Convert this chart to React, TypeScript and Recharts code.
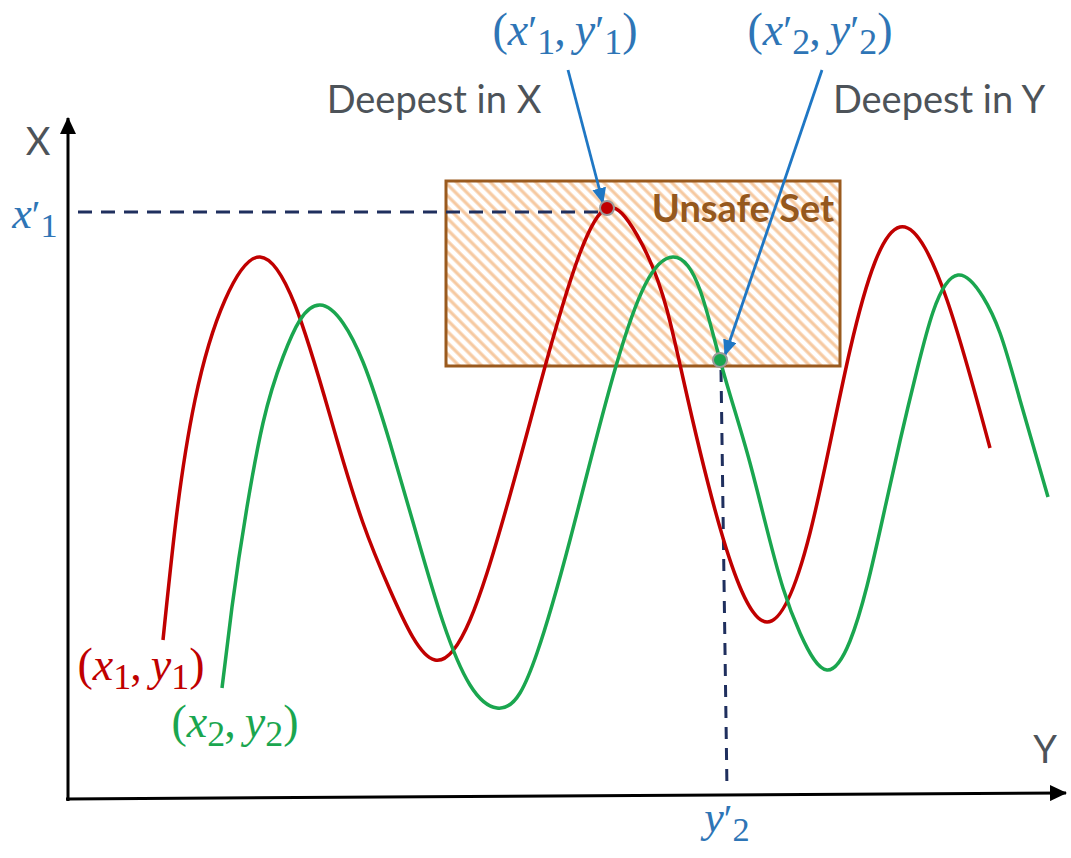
import React from 'react';
import { LineChart, Line, XAxis, YAxis, ReferenceArea, ReferenceLine, ReferenceDot } from 'recharts';

// Trajectory 1 (red): horizontal "Y" coordinate u, vertical "X" coordinate v
const traj1 = [
  { u: 95, v: 157 }, { u: 108, v: 277 }, { u: 127, v: 397 }, { u: 157, v: 497 },
  { u: 192, v: 540 }, { u: 227, v: 492 }, { u: 269, v: 357 }, { u: 295, v: 274 },
  { u: 322, v: 207 }, { u: 367, v: 137 }, { u: 402, v: 177 }, { u: 419, v: 224 },
  { u: 472, v: 412 }, { u: 512, v: 544 }, { u: 539, v: 589 }, { u: 569, v: 562 },
  { u: 599, v: 487 }, { u: 615, v: 419 }, { u: 655, v: 259 }, { u: 699, v: 175 },
  { u: 742, v: 264 }, { u: 782, v: 447 }, { u: 807, v: 535 }, { u: 832, v: 570 },
  { u: 857, v: 549 }, { u: 879, v: 497 }, { u: 922, v: 349 },
];

// Trajectory 2 (green)
const traj2 = [
  { u: 154, v: 109 }, { u: 164, v: 190 }, { u: 179, v: 290 }, { u: 195, v: 374 },
  { u: 215, v: 440 }, { u: 232, v: 477 }, { u: 252, v: 492 }, { u: 275, v: 474 },
  { u: 295, v: 435 }, { u: 322, v: 354 }, { u: 349, v: 261 }, { u: 375, v: 175 },
  { u: 402, v: 112 }, { u: 429, v: 89 }, { u: 452, v: 104 }, { u: 469, v: 144 },
  { u: 502, v: 257 }, { u: 548, v: 431 }, { u: 577, v: 512 }, { u: 605, v: 540 },
  { u: 620, v: 531 }, { u: 632, v: 507 }, { u: 652, v: 437 }, { u: 682, v: 334 },
  { u: 715, v: 209 }, { u: 732, v: 164 }, { u: 759, v: 127 }, { u: 782, v: 156 },
  { u: 799, v: 211 }, { u: 815, v: 280 }, { u: 832, v: 356 }, { u: 849, v: 427 },
  { u: 865, v: 485 }, { u: 890, v: 522 }, { u: 915, v: 500 }, { u: 932, v: 464 },
  { u: 952, v: 397 }, { u: 980, v: 300 },
];

// Unsafe set bounds
const unsafeU = [378, 772];
const unsafeV = [431, 616];

// Deepest points
const deepestX = { u: 539, v: 589 };
const deepestY = { u: 652, v: 437 };

// Domain of the whole drawing
const domainU: [number, number] = [-68, 1003];
const domainV: [number, number] = [-61, 797];

// Axes (start, end)
const axisVertical = [{ u: 0, v: -4 }, { u: 0, v: 679 }];
const axisHorizontal = [{ u: -2, v: -2 }, { u: 998, v: 4 }];

// Projection lines
const projX = [{ u: 10, v: 585 }, { u: 532, v: 585 }];
const projY = [{ u: 653, v: 427 }, { u: 659, v: 7 }];

// Pointer arrows
const pointerX = [{ u: 500, v: 727 }, { u: 535, v: 594 }];
const pointerY = [{ u: 754, v: 727 }, { u: 657, v: 442 }];

type Tok = { t: string; k: 'n' | 'i' | 'p' | 's' | 'c' };

const lblDeepX: Tok[] = [
  { t: '(', k: 'n' }, { t: 'x', k: 'i' }, { t: '′', k: 'p' }, { t: '1', k: 's' },
  { t: ',', k: 'c' }, { t: 'y', k: 'i' }, { t: '′', k: 'p' }, { t: '1', k: 's' }, { t: ')', k: 'n' },
];
const lblDeepY: Tok[] = [
  { t: '(', k: 'n' }, { t: 'x', k: 'i' }, { t: '′', k: 'p' }, { t: '2', k: 's' },
  { t: ',', k: 'c' }, { t: 'y', k: 'i' }, { t: '′', k: 'p' }, { t: '2', k: 's' }, { t: ')', k: 'n' },
];
const lblTraj1: Tok[] = [
  { t: '(', k: 'n' }, { t: 'x', k: 'i' }, { t: '1', k: 's' },
  { t: ',', k: 'c' }, { t: 'y', k: 'i' }, { t: '1', k: 's' }, { t: ')', k: 'n' },
];
const lblTraj2: Tok[] = [
  { t: '(', k: 'n' }, { t: 'x', k: 'i' }, { t: '2', k: 's' },
  { t: ',', k: 'c' }, { t: 'y', k: 'i' }, { t: '2', k: 's' }, { t: ')', k: 'n' },
];
const lblTickX: Tok[] = [{ t: 'x', k: 'i' }, { t: '′', k: 'p' }, { t: '1', k: 's' }];
const lblTickY: Tok[] = [{ t: 'y', k: 'i' }, { t: '′', k: 'p' }, { t: '2', k: 's' }];

const mathLabels = [
  { id: 'dx', u: 497, v: 752, toks: lblDeepX, color: '#2e75b6', size: 46 },
  { id: 'dy', u: 752, v: 752, toks: lblDeepY, color: '#2e75b6', size: 46 },
  { id: 't1', u: 73, v: 117, toks: lblTraj1, color: '#c00000', size: 46 },
  { id: 't2', u: 167, v: 60, toks: lblTraj2, color: '#1aa64f', size: 46 },
  { id: 'kx', u: -33, v: 569, toks: lblTickX, color: '#2e75b6', size: 44 },
  { id: 'ky', u: 659, v: -35, toks: lblTickY, color: '#2e75b6', size: 44 },
];

const textLabels = [
  { id: 'deepX', u: 366, v: 684, text: 'Deepest in X' },
  { id: 'deepY', u: 871, v: 684, text: 'Deepest in Y' },
  { id: 'axX', u: -30, v: 642, text: 'X' },
  { id: 'axY', u: 977, v: 34, text: 'Y' },
];

const unsafeLabel = { u: 675, v: 575, text: 'Unsafe Set' };

const SERIF = "'Liberation Serif', 'DejaVu Serif', serif";
const SANS = "Lato, 'Open Sans', 'Liberation Sans', sans-serif";

// Natural cubic spline y(x) (non-parametric) as a d3-style curve factory
function splineX(context: any) {
  let xs: number[] = [];
  let ys: number[] = [];
  return {
    areaStart() {},
    areaEnd() {},
    lineStart() {
      xs = [];
      ys = [];
    },
    point(x: number, y: number) {
      xs.push(+x);
      ys.push(+y);
    },
    lineEnd() {
      const n = xs.length;
      if (n === 0) return;
      context.moveTo(xs[0], ys[0]);
      if (n === 1) return;
      if (n === 2) {
        context.lineTo(xs[1], ys[1]);
        return;
      }
      const h: number[] = [];
      for (let i = 0; i < n - 1; i++) h.push(xs[i + 1] - xs[i]);
      // tridiagonal for second derivatives M, natural ends
      const M = new Array(n).fill(0);
      const a: number[] = new Array(n).fill(0);
      const b: number[] = new Array(n).fill(1);
      const c: number[] = new Array(n).fill(0);
      const d: number[] = new Array(n).fill(0);
      for (let i = 1; i < n - 1; i++) {
        a[i] = h[i - 1];
        b[i] = 2 * (h[i - 1] + h[i]);
        c[i] = h[i];
        d[i] = 6 * ((ys[i + 1] - ys[i]) / h[i] - (ys[i] - ys[i - 1]) / h[i - 1]);
      }
      // Thomas algorithm
      const cp = new Array(n).fill(0);
      const dp = new Array(n).fill(0);
      cp[0] = c[0] / b[0];
      dp[0] = d[0] / b[0];
      for (let i = 1; i < n; i++) {
        const m = b[i] - a[i] * cp[i - 1];
        cp[i] = c[i] / m;
        dp[i] = (d[i] - a[i] * dp[i - 1]) / m;
      }
      M[n - 1] = dp[n - 1];
      for (let i = n - 2; i >= 0; i--) M[i] = dp[i] - cp[i] * M[i + 1];
      for (let i = 0; i < n - 1; i++) {
        const hi = h[i];
        const sl = (ys[i + 1] - ys[i]) / hi;
        const d0 = sl - (hi * (2 * M[i] + M[i + 1])) / 6;
        const d1 = sl + (hi * (M[i] + 2 * M[i + 1])) / 6;
        context.bezierCurveTo(
          xs[i] + hi / 3,
          ys[i] + (d0 * hi) / 3,
          xs[i + 1] - hi / 3,
          ys[i + 1] - (d1 * hi) / 3,
          xs[i + 1],
          ys[i + 1],
        );
      }
    },
  };
}

function MathText({ x, y, toks, color, size }: { x: number; y: number; toks: Tok[]; color: string; size: number }) {
  let shift = 0;
  const subSize = size * 0.78;
  const subDy = size * 0.2;
  const parts = toks.map((tk, i) => {
    const isSub = tk.k === 's';
    const target = isSub ? subDy : 0;
    const dy = target - shift;
    shift = target;
    const props: any = { key: i };
    if (dy !== 0) props.dy = dy;
    if (tk.k === 'i') props.fontStyle = 'italic';
    if (isSub) props.fontSize = subSize;
    if (tk.k === 'p') props.fontSize = size * 0.9;
    if (tk.k === 'c') props.dx = -1;
    const txt = tk.k === 'c' ? tk.t + '\u2009' : tk.t;
    return <tspan {...props}>{txt}</tspan>;
  });
  return (
    <text x={x} y={y} textAnchor="middle" fill={color} fontFamily={SERIF} fontSize={size}>
      {parts}
    </text>
  );
}

const segLine = (color: string, width: number, marker?: string, dash?: string) => (p: any) => (
  <line
    x1={p.x1}
    y1={p.y1}
    x2={p.x2}
    y2={p.y2}
    stroke={color}
    strokeWidth={width}
    strokeDasharray={dash}
    markerEnd={marker ? `url(#${marker})` : undefined}
    fill="none"
  />
);

export default function App() {
  return (
    <div style={{ position: 'absolute', left: 0, top: 0, width: 1071, height: 858, background: '#fff' }}>
      <svg width={0} height={0} style={{ position: 'absolute' }}>
        <defs>
          <pattern id="hatch" patternUnits="userSpaceOnUse" width={8} height={8} patternTransform="rotate(-45)">
            <rect x={0} y={0} width={8} height={8} fill="#ffffff" />
            <line x1={2} y1={0} x2={2} y2={8} stroke="#f6c9a0" strokeWidth={3.2} />
          </pattern>
          <marker id="arrBlack" markerUnits="userSpaceOnUse" markerWidth={18} markerHeight={16} refX={16} refY={8} orient="auto">
            <path d="M0,0 L17,8 L0,16 Z" fill="#000" />
          </marker>
          <marker id="arrBlue" markerUnits="userSpaceOnUse" markerWidth={16} markerHeight={14} refX={15} refY={7} orient="auto">
            <path d="M0,0 L16,7 L0,14 Z" fill="#1f77c4" />
          </marker>
        </defs>
      </svg>
      <LineChart width={1071} height={858} margin={{ top: 0, right: 0, bottom: 0, left: 0 }}>
        <XAxis type="number" dataKey="u" domain={domainU} allowDataOverflow hide />
        <YAxis type="number" dataKey="v" domain={domainV} allowDataOverflow hide />

        <ReferenceArea
          x1={unsafeU[0]}
          x2={unsafeU[1]}
          y1={unsafeV[0]}
          y2={unsafeV[1]}
          fill="url(#hatch)"
          fillOpacity={1}
          stroke="#9a5a1e"
          strokeWidth={3}
        />
        <ReferenceDot
          x={unsafeLabel.u}
          y={unsafeLabel.v}
          r={0}
          shape={(p: any) => (
            <text x={p.cx} y={p.cy} textAnchor="middle" fill="#95581d" fontFamily={SANS} fontWeight={700} fontSize={38}>
              {unsafeLabel.text}
            </text>
          )}
        />

        <ReferenceLine
          segment={[{ x: projX[0].u, y: projX[0].v }, { x: projX[1].u, y: projX[1].v }]}
          shape={segLine('#1f2f5e', 3, undefined, '14 9')}
        />
        <ReferenceLine
          segment={[{ x: projY[0].u, y: projY[0].v }, { x: projY[1].u, y: projY[1].v }]}
          shape={segLine('#1f2f5e', 3, undefined, '12 9')}
        />

        <Line data={traj1} dataKey="v" type={splineX as any} stroke="#c00000" strokeWidth={3.5} dot={false} activeDot={false} isAnimationActive={false} />
        <Line data={traj2} dataKey="v" type={splineX as any} stroke="#1aa64f" strokeWidth={3.5} dot={false} activeDot={false} isAnimationActive={false} />

        <ReferenceDot x={deepestX.u} y={deepestX.v} r={7} fill="#c00000" stroke="#9a9a9a" strokeWidth={2} />
        <ReferenceDot x={deepestY.u} y={deepestY.v} r={7} fill="#1aa64f" stroke="#9a9a9a" strokeWidth={2} />

        <ReferenceLine
          segment={[{ x: axisVertical[0].u, y: axisVertical[0].v }, { x: axisVertical[1].u, y: axisVertical[1].v }]}
          shape={segLine('#000', 3, 'arrBlack')}
        />
        <ReferenceLine
          segment={[{ x: axisHorizontal[0].u, y: axisHorizontal[0].v }, { x: axisHorizontal[1].u, y: axisHorizontal[1].v }]}
          shape={segLine('#000', 3, 'arrBlack')}
        />

        <ReferenceLine
          segment={[{ x: pointerX[0].u, y: pointerX[0].v }, { x: pointerX[1].u, y: pointerX[1].v }]}
          shape={segLine('#1f77c4', 2.8, 'arrBlue')}
        />
        <ReferenceLine
          segment={[{ x: pointerY[0].u, y: pointerY[0].v }, { x: pointerY[1].u, y: pointerY[1].v }]}
          shape={segLine('#1f77c4', 2.8, 'arrBlue')}
        />

        {textLabels.map((l) => (
          <ReferenceDot
            key={l.id}
            x={l.u}
            y={l.v}
            r={0}
            shape={(p: any) => (
              <text x={p.cx} y={p.cy} textAnchor="middle" fill="#4d5359" fontFamily={SANS} fontSize={38}>
                {l.text}
              </text>
            )}
          />
        ))}

        {mathLabels.map((l) => (
          <ReferenceDot
            key={l.id}
            x={l.u}
            y={l.v}
            r={0}
            shape={(p: any) => <MathText x={p.cx} y={p.cy} toks={l.toks} color={l.color} size={l.size} />}
          />
        ))}
      </LineChart>
    </div>
  );
}
